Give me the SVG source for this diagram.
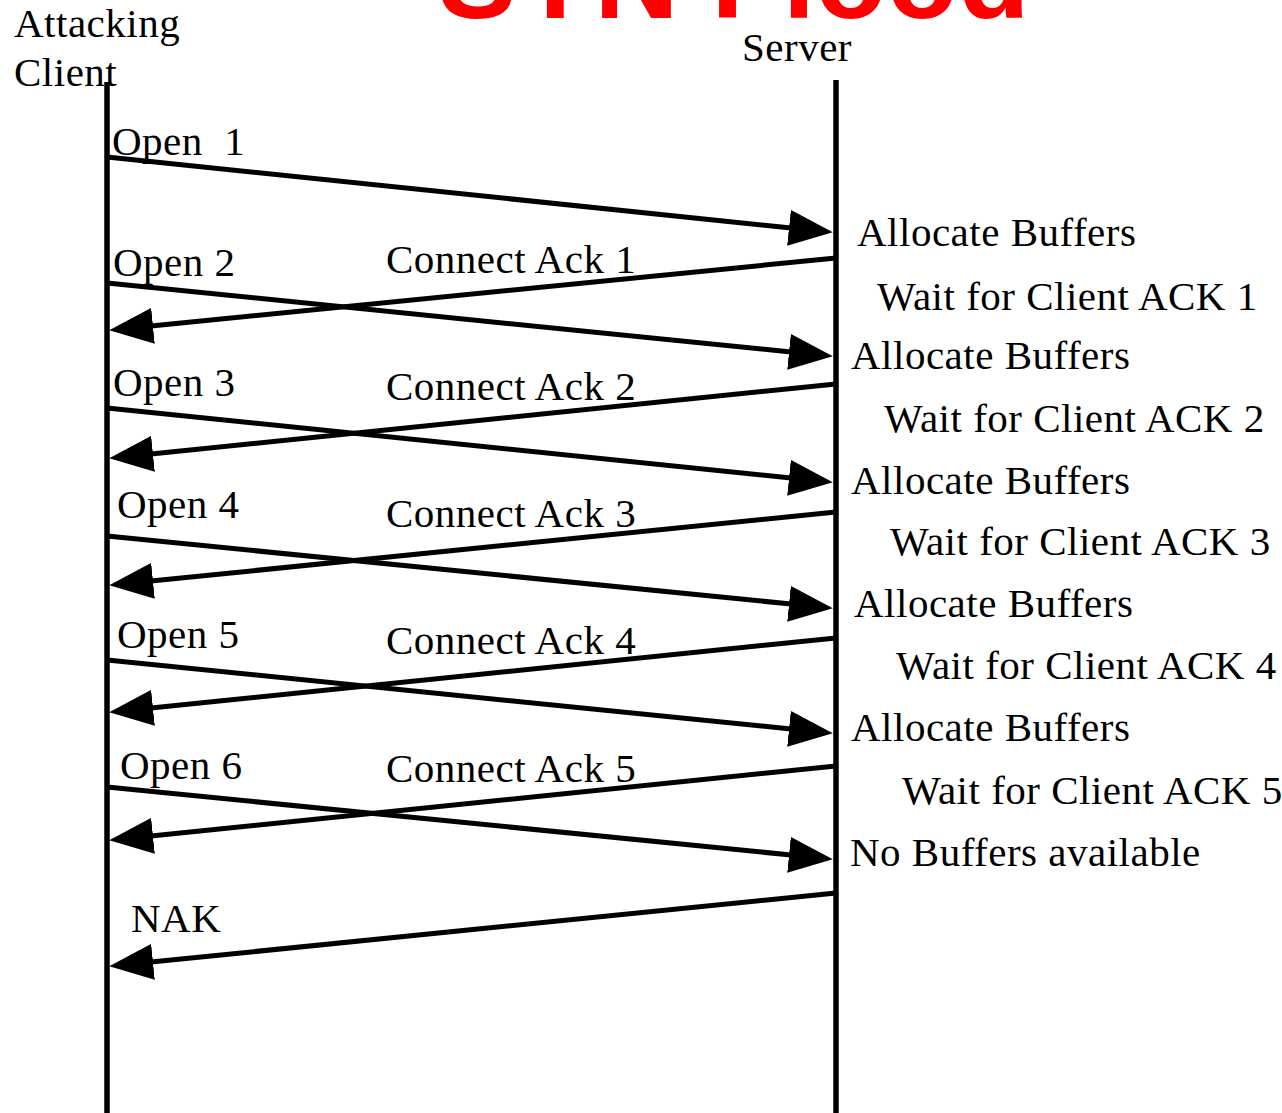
<svg xmlns="http://www.w3.org/2000/svg" width="1282" height="1113" viewBox="0 0 1282 1113">
<style>
.t{font-family:"Liberation Serif","Times New Roman",serif;font-size:41px;fill:#000;letter-spacing:0.5px}
.title{font-family:"Liberation Sans",Arial,sans-serif;font-size:117px;font-weight:bold;fill:#ff0000}
.life{stroke:#000;stroke-width:5.5;fill:none}
.msg{stroke:#000;stroke-width:5;fill:none;marker-end:url(#ah)}
</style>
<defs>
<marker id="ah" markerUnits="userSpaceOnUse" viewBox="0 0 44 36" markerWidth="44" markerHeight="36" refX="2" refY="18" orient="auto">
<path d="M0,0 L44,18 L0,36 z" fill="#000"/>
</marker>
</defs>
<rect width="1282" height="1113" fill="#fff"/>
<text class="title" x="734" y="18" text-anchor="middle">SYN Flood</text>
<g id="client">
<text class="t" x="14" y="37">Attacking</text>
<text class="t" x="14" y="86">Client</text>
<line class="life" x1="107" y1="82" x2="107" y2="1113"/>
</g>
<g id="server">
<text class="t" x="742" y="61">Server</text>
<line class="life" x1="836" y1="80" x2="836" y2="1113"/>
</g>
<g id="connectors">
<line class="msg" x1="107" y1="157" x2="791" y2="228"/>
<line class="msg" x1="107" y1="283" x2="791" y2="352"/>
<line class="msg" x1="107" y1="408" x2="791" y2="478"/>
<line class="msg" x1="107" y1="536" x2="791" y2="604"/>
<line class="msg" x1="107" y1="660" x2="791" y2="729"/>
<line class="msg" x1="107" y1="787" x2="791" y2="855"/>
<line class="msg" x1="836" y1="258" x2="151" y2="326"/>
<line class="msg" x1="836" y1="384" x2="151" y2="454"/>
<line class="msg" x1="836" y1="512" x2="151" y2="581"/>
<line class="msg" x1="836" y1="638" x2="151" y2="708"/>
<line class="msg" x1="836" y1="766" x2="151" y2="836"/>
<line class="msg" x1="836" y1="893" x2="151" y2="962"/>
</g>
<g id="message-labels">
<text class="t" x="112" y="155" xml:space="preserve">Open  1</text>
<text class="t" x="113" y="276">Open 2</text>
<text class="t" x="113" y="396">Open 3</text>
<text class="t" x="117" y="518">Open 4</text>
<text class="t" x="117" y="648">Open 5</text>
<text class="t" x="120" y="779">Open 6</text>
<text class="t" x="131" y="932">NAK</text>
<text class="t" x="386" y="273">Connect Ack 1</text>
<text class="t" x="386" y="400">Connect Ack 2</text>
<text class="t" x="386" y="527">Connect Ack 3</text>
<text class="t" x="386" y="654">Connect Ack 4</text>
<text class="t" x="386" y="782">Connect Ack 5</text>
</g>
<g id="server-states">
<text class="t" x="857" y="246">Allocate Buffers</text>
<text class="t" x="877" y="310">Wait for Client ACK 1</text>
<text class="t" x="851" y="369">Allocate Buffers</text>
<text class="t" x="884" y="432">Wait for Client ACK 2</text>
<text class="t" x="851" y="494">Allocate Buffers</text>
<text class="t" x="890" y="555">Wait for Client ACK 3</text>
<text class="t" x="854" y="617">Allocate Buffers</text>
<text class="t" x="896" y="679">Wait for Client ACK 4</text>
<text class="t" x="851" y="741">Allocate Buffers</text>
<text class="t" x="902" y="804">Wait for Client ACK 5</text>
<text class="t" x="850" y="866">No Buffers available</text>
</g>
</svg>
